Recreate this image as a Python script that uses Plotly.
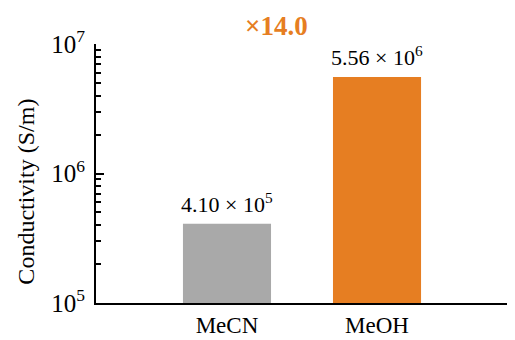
import plotly.graph_objects as go
import math

categories = ["MeCN", "MeOH"]
values = [4.10e5, 5.56e6]
bar_colors = ["#A9A9A9", "#E67E22"]
value_labels = ["4.10 × 10<sup>5</sup>", "5.56 × 10<sup>6</sup>"]
ratio_label = "×14.0"
y_title = "Conductivity (S/m)"
ytick_vals = [1e5, 1e6, 1e7]
ytick_text = ["10<sup>5</sup>", "10<sup>6</sup>", "10<sup>7</sup>"]
minor_vals = [m * 10 ** e for e in (5, 6) for m in range(2, 10)]

FONT = "Liberation Serif"

fig = go.Figure()
fig.add_trace(go.Bar(
    x=categories, y=values, marker=dict(color=bar_colors, line=dict(width=0)),
    width=0.587,
))

for c, v, t in zip(categories, values, value_labels):
    fig.add_annotation(x=c, y=math.log10(v), text=t, showarrow=False,
                       yanchor="bottom", yshift=5,
                       font=dict(family=FONT, size=22, color="black"))

fig.add_annotation(x=0.437, y=1.0, xref="paper", yref="paper", text="<b>" + ratio_label + "</b>",
                   showarrow=False, yanchor="bottom", yshift=1,
                   font=dict(family=FONT, size=27, color="#E67E22"))

fig.add_annotation(x=0, y=0.43, xref="paper", yref="paper", text=y_title, textangle=-90,
                   showarrow=False, xanchor="center", yanchor="middle", xshift=-70,
                   font=dict(family=FONT, size=24, color="black"))

# small upward tick at right end of x axis
fig.add_shape(type="line", xref="paper", yref="paper", x0=1, x1=1, y0=0, y1=0.025,
              line=dict(color="black", width=2))

fig.update_layout(
    width=507, height=332,
    margin=dict(l=88, r=7, t=36, b=37, autoexpand=False),
    plot_bgcolor="white", paper_bgcolor="white",
    showlegend=False,
    font=dict(family=FONT, color="black"),
    xaxis=dict(range=[-0.873, 1.873], showline=True, linecolor="black", linewidth=2,
               automargin=False,
               ticks="", tickfont=dict(family=FONT, size=23), showgrid=False, zeroline=False),
    yaxis=dict(type="log", range=[5, 7], showline=True, linecolor="black", linewidth=2,
               automargin=False,
               ticks="inside", ticklen=8, tickwidth=2, tickcolor="black",
               tickmode="array", tickvals=ytick_vals, ticktext=ytick_text, ticklabelstandoff=4,
               tickfont=dict(family=FONT, size=25), showgrid=False, zeroline=False,
               minor=dict(ticks="inside", ticklen=5, tickwidth=1.5, tickcolor="black",
                          tickmode="array", tickvals=minor_vals, showgrid=False)),
)

fig.write_html("out.html")
